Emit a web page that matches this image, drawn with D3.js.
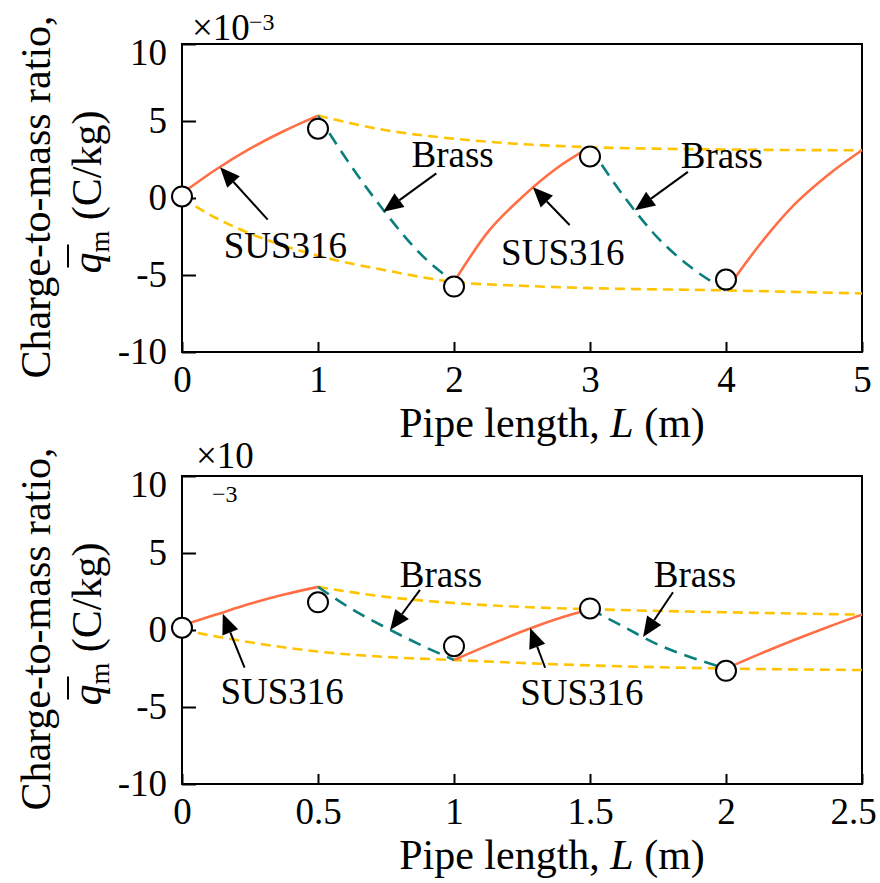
<!DOCTYPE html>
<html>
<head>
<meta charset="utf-8">
<script src="https://cdn.jsdelivr.net/npm/d3@7"></script>
<style>
  body { margin: 0; background: #fff; }
  svg { font-family: "Liberation Serif", "Times New Roman", Times, serif; }
  svg text { font-family: "Liberation Serif", "Times New Roman", Times, serif; fill: #000; }
  .axis path.domain { display: none; }
  .axis line { stroke: #000; stroke-width: 2px; }
  .axis text { font-size: 37px; font-family: "Liberation Serif", "Times New Roman", Times, serif; }
  .frame { fill: none; stroke: #000; stroke-width: 2px; }
  .sus { fill: none; stroke: #ff6e45; stroke-width: 2.6px; }
  .brass { fill: none; stroke: #0b7f7e; stroke-width: 2.6px; stroke-dasharray: 13 8; }
  .envelope { fill: none; stroke: #ffc400; stroke-width: 2.6px; stroke-dasharray: 10 6; }
  .marker { fill: #fff; stroke: #000; stroke-width: 2px; }
  .note { font-size: 37px; }
  .title { font-size: 42px; }
</style>
</head>
<body>
<svg id="chart" width="880" height="883"></svg>
<script>

// ---- data (charge-to-mass ratio in units of 1e-3 C/kg) ----
const yTicks = [-10, -5, 0, 5, 10];

// top panel: 1 m pipe sections
const topXTicks = [0, 1, 2, 3, 4, 5];
const topSus316 = [
  [[0, 0.3], [0.25, 1.85], [0.5, 3.2], [0.75, 4.35], [1, 5.35]],
  [[2, -5.45], [2.25, -2.2], [2.5, 0.05], [2.75, 1.9], [3, 3.3]],
  [[4, -6.0], [4.25, -3.0], [4.5, -0.45], [4.75, 1.5], [5, 3.1]]
];
const topBrass = [
  [[1, 5.35], [1.25, 2.0], [1.5, -1.0], [1.75, -3.6], [2, -5.45]],
  [[3, 3.3], [3.25, 0.1], [3.5, -2.6], [3.75, -4.55], [4, -6.0]]
];
const topUpper = [[1, 5.35], [1.5, 4.4], [2, 3.85], [2.5, 3.5], [3, 3.3], [4, 3.15], [5, 3.1]];
const topLower = [[0, 0], [0.25, -1.3], [0.5, -2.3], [0.75, -3.1], [1, -3.75], [1.5, -4.7],
                  [2, -5.45], [2.5, -5.7], [3, -5.85], [4, -6.0], [5, -6.2]];
const topMeasured = [[0, 0.1], [1, 4.5], [2, -5.75], [3, 2.7], [4, -5.3]];
// arrows: tip L, tip q, tail L, tail q
const topArrows = [[0.28, 2.0, 0.63, -1.4], [1.48, -0.9, 1.87, 1.6],
                   [2.58, 0.7, 2.85, -1.75], [3.33, -0.8, 3.72, 1.7]];
const topLabels = [["SUS316", 0.76, -3.9], ["Brass", 1.99, 2.0],
                   ["SUS316", 2.80, -4.35], ["Brass", 3.97, 1.95]];

// bottom panel: 0.5 m pipe sections
const bottomXTicks = [0, 0.5, 1, 1.5, 2, 2.5];
const bottomSus316 = [
  [[0, 0.3], [0.125, 1.0], [0.25, 1.7], [0.375, 2.3], [0.5, 2.8]],
  [[1, -1.95], [1.125, -1.0], [1.25, -0.1], [1.375, 0.7], [1.5, 1.35]],
  [[2, -2.5], [2.125, -1.55], [2.25, -0.65], [2.375, 0.2], [2.5, 1.0]]
];
const bottomBrass = [
  [[0.5, 2.8], [0.625, 1.35], [0.75, 0.15], [0.875, -0.95], [1, -1.95]],
  [[1.5, 1.35], [1.625, 0.2], [1.75, -0.95], [1.875, -1.8], [2, -2.5]]
];
const bottomUpper = [[0.5, 2.8], [0.75, 2.15], [1, 1.75], [1.25, 1.5], [1.5, 1.35], [2, 1.15], [2.5, 1.0]];
const bottomLower = [[0, 0], [0.25, -0.8], [0.5, -1.4], [0.75, -1.75], [1, -1.95],
                     [1.5, -2.3], [2, -2.5], [2.5, -2.6]];
const bottomMeasured = [[0, 0.15], [0.5, 1.8], [1, -1.05], [1.5, 1.4], [2, -2.65]];
const bottomArrows = [[0.15, 1.05, 0.23, -2.45], [0.765, 0.0, 0.875, 2.6],
                      [1.28, 0.13, 1.335, -2.45], [1.695, -0.45, 1.805, 2.45]];
const bottomLabels = [["SUS316", 0.368, -4.8], ["Brass", 0.952, 2.8],
                      ["SUS316", 1.47, -4.9], ["Brass", 1.886, 2.8]];

const svg = d3.select("svg#chart");
const margin = {left: 182, right: 18};
const plotWidth = 880 - margin.left - margin.right;   // 680
const plotHeight = 308;

function drawPanel(top, xTicks, sus, brass, upper, lower, measured, arrows, labels, expo) {

  const x = d3.scaleLinear().domain(d3.extent(xTicks)).range([0, plotWidth]);
  const y = d3.scaleLinear().domain([-10, 10]).range([plotHeight, 0]);

  const panel = svg.append("g").attr("transform", `translate(${margin.left},${top})`);

  // axes, ticks point inwards
  const leftAxis = d3.axisLeft(y).tickValues(yTicks).tickSize(-14).tickSizeOuter(0)
                     .tickPadding(15).tickFormat(d => String(d));
  const yAx = panel.append("g").attr("class", "axis").call(leftAxis);
  yAx.attr("font-family", null);
  yAx.selectAll(".tick text").filter(d => d === 10).attr("dy", "0.55em");

  const bottomAxis = d3.axisBottom(x).tickValues(xTicks).tickSize(-10).tickSizeOuter(0)
                       .tickPadding(14).tickFormat(d => String(d));
  const xAx = panel.append("g").attr("class", "axis")
       .attr("transform", `translate(0,${plotHeight})`)
       .call(bottomAxis);
  xAx.attr("font-family", null);
  // a wide last label would run off the page edge, nudge it in a little
  xAx.selectAll(".tick text")
     .filter((d, i, n) => i === n.length - 1 && String(d).length > 1)
     .attr("dx", -9);

  panel.append("rect").attr("class", "frame")
       .attr("width", plotWidth).attr("height", plotHeight);

  const line = d3.line().x(d => x(d[0])).y(d => y(d[1])).curve(d3.curveMonotoneX);

  panel.selectAll("path.envelope").data([upper, lower]).join("path")
       .attr("class", "envelope").attr("d", line);
  panel.selectAll("path.brass").data(brass).join("path")
       .attr("class", "brass").attr("d", line);
  panel.selectAll("path.sus").data(sus).join("path")
       .attr("class", "sus").attr("d", line);

  // arrows pointing at the curves
  const headLen = 20, headHalf = 8.5;
  arrows.forEach(a => {
    const tx = x(a[0]), ty = y(a[1]), sx = x(a[2]), sy = y(a[3]);
    const len = Math.hypot(tx - sx, ty - sy);
    const ux = (tx - sx) / len, uy = (ty - sy) / len;
    const bx = tx - ux * headLen, by = ty - uy * headLen;
    panel.append("line")
         .attr("x1", sx).attr("y1", sy).attr("x2", bx).attr("y2", by)
         .attr("stroke", "#000").attr("stroke-width", 2);
    panel.append("path")
         .attr("d", `M${tx},${ty}L${bx - uy * headHalf},${by + ux * headHalf}L${bx + uy * headHalf},${by - ux * headHalf}Z`)
         .attr("fill", "#000");
  });

  panel.selectAll("text.note").data(labels).join("text")
       .attr("class", "note")
       .attr("x", d => x(d[1])).attr("y", d => y(d[2]))
       .attr("text-anchor", "middle")
       .text(d => d[0]);

  panel.selectAll("circle.marker").data(measured).join("circle")
       .attr("class", "marker")
       .attr("cx", d => x(d[0])).attr("cy", d => y(d[1]))
       .attr("r", 10);

  // x axis title
  const xt = panel.append("text").attr("class", "title")
       .attr("x", 370).attr("y", plotHeight + 85)
       .attr("text-anchor", "middle");
  xt.append("tspan").text("Pipe length, ");
  xt.append("tspan").attr("font-style", "italic").text("L");
  xt.append("tspan").text(" (m)");

  // y axis title, two rotated lines
  const yt = svg.append("g").attr("transform", "rotate(-90)");
  yt.append("text").attr("class", "title")
    .attr("x", -(top + 153)).attr("y", 50)
    .attr("text-anchor", "middle")
    .text("Charge-to-mass ratio,");
  const l2 = yt.append("text").attr("class", "title")
    .attr("x", -(top + 148)).attr("y", 101)
    .attr("text-anchor", "middle");
  l2.append("tspan").attr("font-style", "italic").text("q");
  l2.append("tspan").attr("font-size", 28).attr("dy", 8).text("m");
  l2.append("tspan").attr("dy", -8).text(" (C/kg)");
  const q0 = l2.node().getStartPositionOfChar(0);
  const q1 = l2.node().getEndPositionOfChar(0);
  yt.append("line")
    .attr("x1", q0.x + 6).attr("x2", q1.x + 8)
    .attr("y1", 101 - 33).attr("y2", 101 - 33)
    .attr("stroke", "#000").attr("stroke-width", 2);

  // exponent note
  panel.append("text").attr("class", "note")
       .attr("x", expo.x).attr("y", expo.y).text("\u00d710");
  panel.append("text").attr("font-size", 24)
       .attr("x", expo.sx).attr("y", expo.sy).text("\u22123");
}

drawPanel(44, topXTicks, topSus316, topBrass, topUpper, topLower, topMeasured,
          topArrows, topLabels, {x: 10, y: -4, sx: 67, sy: -14});
drawPanel(476, bottomXTicks, bottomSus316, bottomBrass, bottomUpper, bottomLower, bottomMeasured,
          bottomArrows, bottomLabels, {x: 14, y: -8, sx: 30, sy: 26});

</script>
</body>
</html>
